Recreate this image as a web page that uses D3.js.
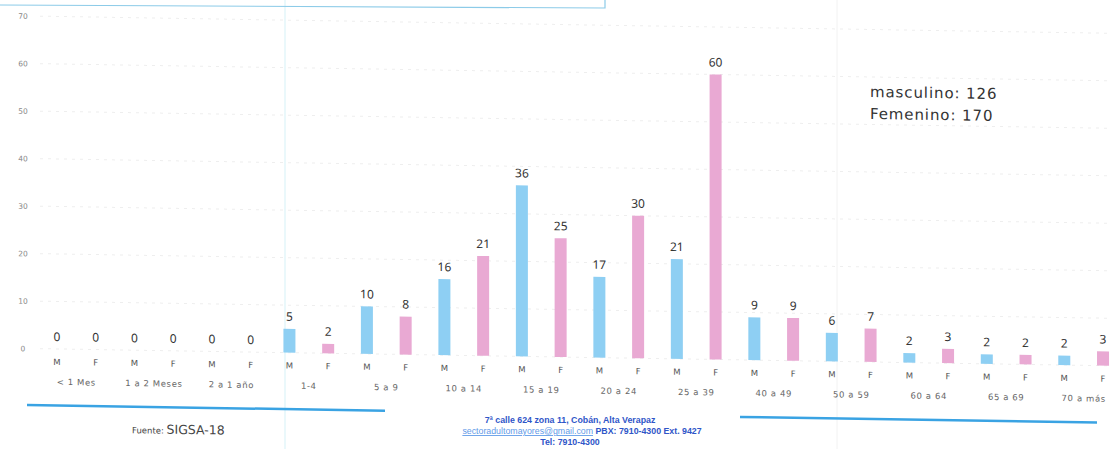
<!DOCTYPE html>
<html><head><meta charset="utf-8">
<script src="https://cdn.jsdelivr.net/npm/d3@7"></script>
<style>html,body{margin:0;padding:0;background:#fff;}svg{display:block;}</style>
</head><body>
<script>
const categories = ["< 1 Mes","1 a 2 Meses","2 a 1 año","1-4","5 a 9","10 a 14","15 a 19","20 a 24","25 a 39","40 a 49","50 a 59","60 a 64","65 a 69","70 a más"];
const sexes = ["M","F"];
const masculino = [0,0,0,5,10,16,36,17,21,9,6,2,2,2];
const femenino  = [0,0,0,2,8,21,25,30,60,9,7,3,2,3];
const yTicks = [0,10,20,30,40,50,60,70];
const legendLines = ["masculino: 126","Femenino: 170"];
const footerLines = ["7ª calle 624 zona 11, Cobán, Alta Verapaz","Tel: 7910-4300"];
const footerEmail = "sectoradultomayores@gmail.com";
const footerPhone = " PBX: 7910-4300 Ext. 9427";

const W = 1110, H = 449;
const colors = {M:"#8ecff3", F:"#e9a9d3"};
const svg = d3.select("body").append("svg").attr("width",W).attr("height",H);

// faint scan artifacts
svg.append("line").attr("x1",285).attr("x2",285).attr("y1",0).attr("y2",H).attr("stroke","#dcf3f8").attr("stroke-width",1.2);
svg.append("line").attr("x1",837).attr("x2",837).attr("y1",0).attr("y2",H).attr("stroke","#f2f2f2").attr("stroke-width",1);
svg.append("path").attr("d","M0,5 L605,8 L605,0").attr("fill","none").attr("stroke","#8ccbe8").attr("stroke-width",1.2);

const cx = 560, k = 0.016;
const g = svg.append("g").attr("transform",`matrix(1,${k},0,1,0,${-k*cx})`);

const y = d3.scaleLinear().domain([0,70]).range([357,24.5]);
const x = d3.scaleBand().domain(categories).range([37.6,1122.4]).padding(0);
const xs = d3.scaleBand().domain(sexes).range([0,x.bandwidth()]).paddingInner(0.69).paddingOuter(0.345);

// gridlines
g.append("g").selectAll("line").data(yTicks).join("line")
  .attr("x1",40).attr("x2",1110).attr("y1",d=>y(d)).attr("y2",d=>y(d))
  .attr("stroke","#eeeeee").attr("stroke-width",1).attr("stroke-dasharray","3,5");

// y axis labels
const yAxis = d3.axisLeft(y).tickValues(yTicks).tickSize(0).tickPadding(0);
const ya = g.append("g").attr("transform","translate(27,0)").call(yAxis);
ya.select(".domain").remove();
ya.selectAll("text").attr("font-family","DejaVu Sans, sans-serif").attr("font-size",7.5).attr("fill","#888").attr("text-anchor","middle").attr("x",-4);

const data = [];
categories.forEach((c,i)=>{
  data.push({cat:c, sex:"M", v:masculino[i]});
  data.push({cat:c, sex:"F", v:femenino[i]});
});

const bx = d => x(d.cat) + xs(d.sex);
g.append("g").selectAll("rect").data(data).join("rect")
  .attr("x",bx).attr("width",xs.bandwidth())
  .attr("y",d=>y(d.v)).attr("height",d=>y(0)-y(d.v))
  .attr("fill",d=>colors[d.sex]);

g.append("g").selectAll("text").data(data).join("text")
  .attr("x",d=>bx(d)+xs.bandwidth()/2).attr("y",d=>y(d.v)-8)
  .attr("text-anchor","middle").attr("font-family","Noto Sans, sans-serif").attr("font-size",12)
  .attr("fill","#333").text(d=>d.v);

g.append("g").selectAll("text").data(data).join("text")
  .attr("x",d=>bx(d)+xs.bandwidth()/2).attr("y",373)
  .attr("text-anchor","middle").attr("font-family","DejaVu Sans, sans-serif").attr("font-size",8.5)
  .attr("fill","#555").text(d=>d.sex);

g.append("g").selectAll("text").data(categories).join("text")
  .attr("x",d=>x(d)+x.bandwidth()/2).attr("y",393)
  .attr("text-anchor","middle").attr("font-family","DejaVu Sans, sans-serif").attr("font-size",8.5)
  .attr("letter-spacing",0.6).attr("fill","#666").text(d=>d);

// legend text
g.append("g").selectAll("text").data(legendLines).join("text")
  .attr("x",870).attr("y",(d,i)=>92+i*22)
  .attr("font-family","DejaVu Sans, sans-serif").attr("font-size",15).attr("letter-spacing",0.9)
  .attr("fill","#333").text(d=>d);

// footer
g.append("line").attr("x1",27).attr("x2",385).attr("y1",413.5).attr("y2",413.5).attr("stroke","#3aa3e3").attr("stroke-width",2.5);
g.append("line").attr("x1",740).attr("x2",1097).attr("y1",414).attr("y2",414).attr("stroke","#3aa3e3").attr("stroke-width",2.5);

const src = g.append("text").attr("x",132).attr("y",440).attr("font-family","DejaVu Sans, sans-serif").attr("fill","#444");
src.append("tspan").attr("font-size",8.5).text("Fuente: ");
src.append("tspan").attr("font-size",12.5).text("SIGSA-18");

const fs = {fam:"Liberation Sans, Arial, sans-serif", size:8.8};
const ft = svg.append("g");
ft.append("text").attr("x",570).attr("y",423).attr("text-anchor","middle").attr("font-family",fs.fam)
  .attr("font-size",fs.size).attr("font-weight","bold").attr("fill","#2f56c8").text(footerLines[0]);
const l2 = ft.append("text").attr("x",582).attr("y",434).attr("text-anchor","middle").attr("font-family",fs.fam)
  .attr("font-size",fs.size).attr("font-weight","bold");
l2.append("tspan").attr("fill","#5f9ae8").attr("text-decoration","underline").attr("font-weight","normal").text(footerEmail);
l2.append("tspan").attr("fill","#2f56c8").text(footerPhone);
ft.append("text").attr("x",570).attr("y",445).attr("text-anchor","middle").attr("font-family",fs.fam)
  .attr("font-size",fs.size).attr("font-weight","bold").attr("fill","#2f56c8").text(footerLines[1]);
</script>
</body></html>
